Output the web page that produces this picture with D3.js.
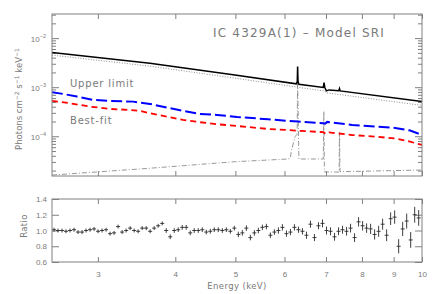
<!DOCTYPE html>
<html><head><meta charset="utf-8">
<script src="https://cdn.jsdelivr.net/npm/d3@7"></script>
<style>
html,body{margin:0;padding:0;background:#fff;}
svg{display:block;font-family:"DejaVu Sans",sans-serif;}
</style></head>
<body>
<svg id="c" width="436" height="294"></svg>
<script>
// ---------------- DATA ----------------
const title = "IC 4329A(1) \u2013 Model SRI";
const labelUpper = "Upper limit";
const labelBest = "Best-fit";
const xTickValues = [3,4,5,6,7,8,9,10];
const ratioTickValues = [0.6,0.8,1.0,1.2,1.4];
const fluxMajorTicks = [1e-4,1e-3,1e-2];

// total model (solid black): [energy keV, photons cm^-2 s^-1 keV^-1]
const totalModel = [[2.53,5.08e-3],[3.64,3.09e-3],[4.99,1.78e-3],[6.27,1.17e-3],[6.292,1.3e-3],[6.30,2.63e-3],[6.31,1.3e-3],[6.33,1.15e-3],
  [6.93,9.9e-4],[6.95,1.24e-3],[6.97,9.86e-4],[7.01,8.4e-4],[7.08,8.8e-4],[7.34,8.5e-4],[7.36,9.4e-4],[7.38,8.4e-4],[10,5.08e-4]];
// primary power law (dotted grey)
const powerLaw = [[2.53,4.5e-3],[3.64,2.68e-3],[4.99,1.53e-3],[6.93,8.4e-4],[6.97,8.3e-4],[7.00,7.7e-4],[10,4.26e-4]];
// reflection + lines (dash-dot grey)
const reflection = [[2.53,1.62e-5],[3.64,2.23e-5],[4.99,3.03e-5],[6.08,3.44e-5],[6.13,3.6e-5],[6.16,5.2e-5],[6.24,9.8e-5],[6.29,1.1e-4],
  [6.30,1.42e-3],[6.33,3.44e-5],[6.93,3.44e-5],[6.945,3.2e-4],[6.96,1.87e-5],[7.35,1.87e-5],[7.36,1.2e-4],[7.375,1.9e-5],[10,2.05e-5]];
// upper limit component (blue long dashes)
const upperLimit = [[2.529,7.91e-4],[2.635,7.30e-4],[2.776,6.43e-4],[2.946,5.51e-4],[3.137,5.25e-4],[3.419,5.08e-4],[3.641,4.56e-4],
  [3.878,3.84e-4],[4.116,3.28e-4],[4.385,2.85e-4],[4.671,2.72e-4],[5.030,2.48e-4],[5.645,2.22e-4],[6.311,1.99e-4],[6.926,1.84e-4],
  [6.978,1.80e-4],[7.030,1.96e-4],[7.715,1.70e-4],[8.403,1.58e-4],[9.050,1.48e-4],[9.570,1.31e-4],[10,1.06e-4]];
// best-fit component (red dashes)
const bestFit = [[2.529,5.25e-4],[2.704,4.71e-4],[2.913,4.02e-4],[3.137,3.61e-4],[3.380,3.44e-4],[3.508,3.28e-4],[3.641,2.94e-4],
  [3.878,2.51e-4],[4.116,2.15e-4],[4.385,1.93e-4],[4.671,1.76e-4],[5.030,1.62e-4],[5.645,1.41e-4],[6.311,1.30e-4],[6.926,1.21e-4],
  [7.004,1.11e-4],[7.082,1.20e-4],[7.715,1.06e-4],[8.403,9.82e-5],[9.050,9.02e-5],[9.570,7.76e-5],[10,6.64e-5]];

// ratio panel
const ratioEnergy = [2.549,2.587,2.626,2.665,2.705,2.746,2.787,2.829,2.871,2.914,2.958,3.002,3.047,3.093,3.139,3.186,3.234,3.283,3.332,3.382,
  3.433,3.484,3.537,3.590,3.643,3.698,3.753,3.810,3.867,3.925,3.984,4.043,4.104,4.165,4.228,4.291,4.356,4.421,4.487,4.555,
  4.623,4.692,4.763,4.834,4.907,4.980,5.055,5.131,5.208,5.286,5.365,5.445,5.527,5.610,5.694,5.780,5.866,5.954,6.044,6.134,
  6.226,6.320,6.414,6.511,6.608,6.707,6.808,6.910,7.014,7.119,7.226,7.334,7.444,7.556,7.669,7.784,7.901,8.020,8.140,8.262,
  8.386,8.512,8.639,8.769,8.900,9.034,9.169,9.307,9.447,9.588,9.732,9.878];
const ratioValue = [1.01,1.00,1.00,0.99,1.00,1.01,0.98,0.98,1.00,1.01,1.02,0.99,1.00,1.01,0.96,0.97,1.05,0.98,1.00,1.03,
  1.00,0.99,1.03,1.03,0.99,1.03,1.06,1.09,1.00,0.92,1.00,1.01,1.04,1.04,0.97,1.00,1.00,1.01,0.98,0.99,
  1.01,1.01,1.00,1.01,0.99,1.03,0.95,0.97,1.03,0.91,0.97,1.00,1.04,1.05,0.94,0.98,1.00,1.04,0.96,0.98,
  1.04,1.01,0.99,0.94,1.08,0.91,1.06,1.09,1.00,0.99,0.92,0.99,1.01,0.99,1.03,0.91,1.11,1.06,1.03,1.02,
  0.95,0.99,1.08,0.94,1.15,1.17,0.80,1.02,1.12,0.88,1.20,1.16];
const ratioError = [0.025,0.025,0.025,0.025,0.025,0.025,0.025,0.025,0.025,0.025,0.025,0.025,0.025,0.025,0.025,0.025,0.025,0.025,0.025,0.025,
  0.025,0.025,0.025,0.025,0.025,0.025,0.025,0.025,0.03,0.03,0.03,0.03,0.03,0.03,0.03,0.03,0.03,0.03,0.03,0.03,
  0.03,0.03,0.03,0.03,0.03,0.03,0.035,0.035,0.035,0.035,0.035,0.035,0.035,0.035,0.035,0.035,0.04,0.04,0.04,0.04,
  0.04,0.04,0.04,0.045,0.045,0.045,0.045,0.05,0.05,0.05,0.05,0.05,0.05,0.055,0.055,0.055,0.06,0.06,0.06,0.065,
  0.065,0.07,0.07,0.075,0.08,0.085,0.09,0.09,0.095,0.1,0.1,0.1];

// ---------------- LAYOUT ----------------
const svg = d3.select("#c");
const L = 52, R = 422, T1 = 14, B1 = 176, T2 = 199, B2 = 262;
const axisCol = "#808080", textCol = "#7a7a7a";

const x = d3.scaleLog().domain([2.53,10]).range([L,R]);
const y = d3.scaleLog().domain([1.55e-5,0.031]).range([B1,T1]);
const yr = d3.scaleLinear().domain([0.6,1.4]).range([B2,T2]);

svg.append("defs").append("clipPath").attr("id","clipTop")
  .append("rect").attr("x",L).attr("y",T1).attr("width",R-L).attr("height",B1-T1);

function styleAxis(g){
  g.select(".domain").remove();
  g.selectAll(".tick line").attr("stroke",axisCol).attr("stroke-width",1);
  g.selectAll(".tick text").attr("fill",textCol).attr("font-size","8px");
}

// ---- top panel axes
const minorY = y.ticks().filter(v => !fluxMajorTicks.some(m => Math.abs(v-m)/m < 1e-9));
svg.append("g").attr("transform",`translate(${L},0)`)
  .call(d3.axisLeft(y).tickValues(minorY).tickSize(-4).tickFormat("")).call(styleAxis);
svg.append("g").attr("transform",`translate(${R},0)`)
  .call(d3.axisRight(y).tickValues(minorY).tickSize(-4).tickFormat("")).call(styleAxis);
svg.append("g").attr("transform",`translate(${R},0)`)
  .call(d3.axisRight(y).tickValues(fluxMajorTicks).tickSize(-7).tickFormat("")).call(styleAxis);
const gyl = svg.append("g").attr("transform",`translate(${L},0)`)
  .call(d3.axisLeft(y).tickValues(fluxMajorTicks).tickSize(-7).tickFormat("")).call(styleAxis);
gyl.selectAll(".tick").each(function(d){
  const t = d3.select(this).append("text").attr("fill",textCol).attr("font-size","8px")
    .attr("text-anchor","end").attr("x",-6).attr("y",3);
  t.append("tspan").text("10");
  t.append("tspan").attr("font-size","5.5px").attr("dy","-3.5").text("\u2212" + Math.round(-Math.log10(d)));
});
svg.append("g").attr("transform",`translate(0,${B1})`)
  .call(d3.axisBottom(x).tickValues(xTickValues).tickSize(-5).tickFormat("")).call(styleAxis);
svg.append("g").attr("transform",`translate(0,${T1})`)
  .call(d3.axisTop(x).tickValues(xTickValues).tickSize(-5).tickFormat("")).call(styleAxis);

// ---- top panel curves
const line = d3.line().x(d => x(d[0])).y(d => y(d[1]));
const gp = svg.append("g").attr("clip-path","url(#clipTop)");
gp.append("path").datum(reflection).attr("d",line).attr("fill","none")
  .attr("stroke","#8c8c8c").attr("stroke-width",0.9).attr("stroke-dasharray","5,2,1,2");
gp.append("path").datum(powerLaw).attr("d",line).attr("fill","none")
  .attr("stroke","#909090").attr("stroke-width",1).attr("stroke-dasharray","1,1.6");
gp.append("path").datum(upperLimit).attr("d",line).attr("fill","none")
  .attr("stroke","#0000ff").attr("stroke-width",2).attr("stroke-dasharray","11,4");
gp.append("path").datum(bestFit).attr("d",line).attr("fill","none")
  .attr("stroke","#ff0000").attr("stroke-width",1.8).attr("stroke-dasharray","6,4");
gp.append("path").datum(totalModel).attr("d",line).attr("fill","none")
  .attr("stroke","#000").attr("stroke-width",1.5).attr("stroke-linejoin","miter");

// frame
svg.append("rect").attr("x",L).attr("y",T1).attr("width",R-L).attr("height",B1-T1)
  .attr("fill","none").attr("stroke",axisCol).attr("stroke-width",1);

// texts top
svg.append("text").attr("x",213).attr("y",37).attr("fill",textCol).attr("font-size","12px")
  .attr("letter-spacing","1.2px").text(title);
svg.append("text").attr("x",70).attr("y",87).attr("fill",textCol).attr("font-size","10px")
  .attr("letter-spacing","0.8px").text(labelUpper);
svg.append("text").attr("x",70).attr("y",124).attr("fill",textCol).attr("font-size","10px")
  .attr("letter-spacing","0.8px").text(labelBest);

const yl = svg.append("text").attr("transform",`translate(22,${(T1+B1)/2+4}) rotate(-90)`)
  .attr("text-anchor","middle").attr("fill",textCol).attr("font-size","8.5px");
yl.append("tspan").text("Photons cm");
yl.append("tspan").attr("font-size","6px").attr("dy","-3.5").text("\u22122");
yl.append("tspan").attr("dy","3.5").text(" s");
yl.append("tspan").attr("font-size","6px").attr("dy","-3.5").text("\u22121");
yl.append("tspan").attr("dy","3.5").text(" keV");
yl.append("tspan").attr("font-size","6px").attr("dy","-3.5").text("\u22121");

// ---- ratio panel
svg.append("g").attr("transform",`translate(${L},0)`)
  .call(d3.axisLeft(yr).tickValues(ratioTickValues).tickSize(-7).tickPadding(5).tickFormat(d3.format(".1f"))).call(styleAxis);
svg.append("g").attr("transform",`translate(${R},0)`)
  .call(d3.axisRight(yr).tickValues(ratioTickValues).tickSize(-7).tickFormat("")).call(styleAxis);
svg.append("g").attr("transform",`translate(0,${B2})`)
  .call(d3.axisBottom(x).tickValues(xTickValues).tickSize(-5).tickPadding(9).tickFormat(d3.format("d"))).call(styleAxis);
svg.append("g").attr("transform",`translate(0,${T2})`)
  .call(d3.axisTop(x).tickValues(xTickValues).tickSize(-5).tickFormat("")).call(styleAxis);

const pts = ratioEnergy.map((e,i) => ({e, r: ratioValue[i], err: ratioError[i],
  lo: i>0 ? Math.sqrt(e*ratioEnergy[i-1]) : e*e/Math.sqrt(e*ratioEnergy[i+1]),
  hi: i<ratioEnergy.length-1 ? Math.sqrt(e*ratioEnergy[i+1]) : e*e/Math.sqrt(e*ratioEnergy[i-1])}));
const gr = svg.append("g").attr("stroke","#2a2a2a").attr("stroke-width",0.9);
gr.selectAll("line.h").data(pts).join("line").attr("class","h")
  .attr("x1",d => x(d.lo)).attr("x2",d => x(d.hi)).attr("y1",d => yr(d.r)).attr("y2",d => yr(d.r));
gr.selectAll("line.v").data(pts).join("line").attr("class","v")
  .attr("x1",d => x(d.e)).attr("x2",d => x(d.e)).attr("y1",d => yr(d.r-d.err)).attr("y2",d => yr(d.r+d.err));

svg.append("rect").attr("x",L).attr("y",T2).attr("width",R-L).attr("height",B2-T2)
  .attr("fill","none").attr("stroke",axisCol).attr("stroke-width",1);

svg.append("text").attr("transform",`translate(27,226) rotate(-90)`).attr("text-anchor","middle")
  .attr("fill",textCol).attr("font-size","8.5px").attr("letter-spacing","0.3px").text("Ratio");
svg.append("text").attr("x",237).attr("y",289).attr("text-anchor","middle")
  .attr("fill",textCol).attr("font-size","8.5px").attr("letter-spacing","0.4px").text("Energy (keV)");
</script>
</body></html>
